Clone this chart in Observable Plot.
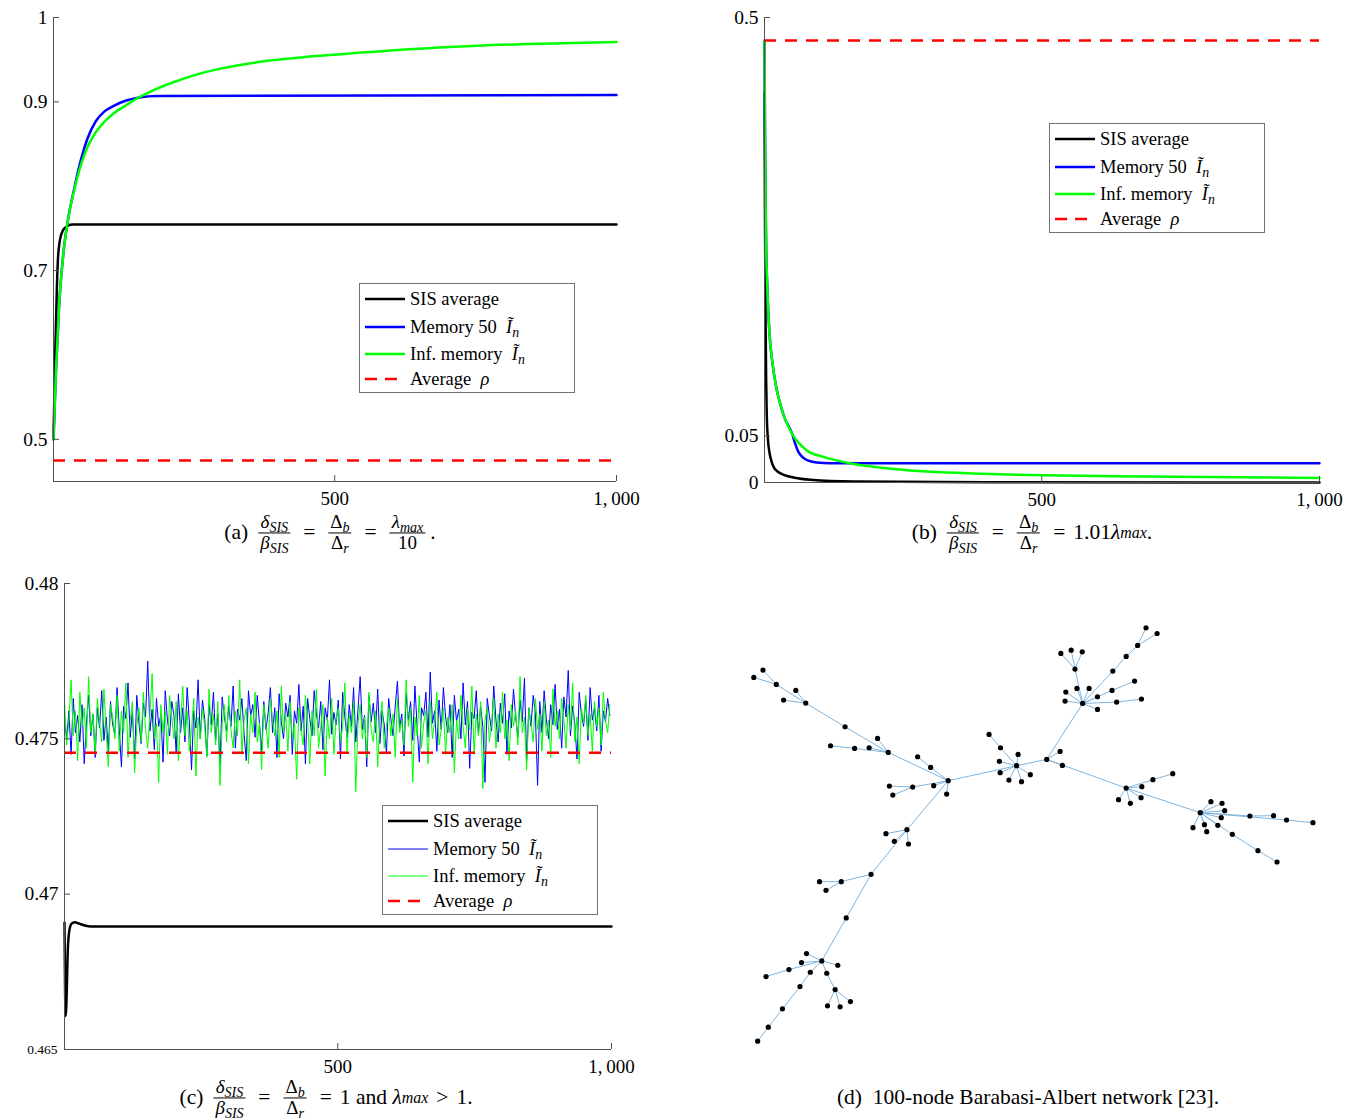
<!DOCTYPE html>
<html><head><meta charset="utf-8">
<script src="https://cdn.jsdelivr.net/npm/d3@7"></script>
<script src="https://cdn.jsdelivr.net/npm/@observablehq/plot@0.6"></script>
<style>
body{margin:0;background:#fff;width:1356px;height:1119px;position:relative;overflow:hidden;font-family:'Liberation Serif','DejaVu Serif',serif;color:#000;}
.panel{position:absolute;}
.legend{position:absolute;background:#fff;border:1px solid #707070;width:216px;height:110px;box-sizing:border-box;font-size:18.5px;}
.legend .row{position:absolute;left:4px;height:24px;display:flex;align-items:center;white-space:nowrap;}
.legend .row svg{width:42px;height:10px;margin-right:4px;flex:none;}
.legend sub{font-size:0.75em;font-style:italic;vertical-align:-0.3em;line-height:0;}
.cap{position:absolute;font-size:21.5px;white-space:nowrap;transform:translate(-50%,-50%);display:flex;align-items:center;}
.frac{display:inline-flex;flex-direction:column;text-align:center;font-size:19px;line-height:0.95;margin:0 5px;}
.frac>span:first-child{border-bottom:1px solid #000;padding:0 2px 1px 2px;}
.frac>span:last-child{padding-top:1px;}
.frac sub, .cap sub{font-size:0.74em;font-style:italic;vertical-align:-0.25em;line-height:0;}
.op{margin:0 8px;}
</style>
</head><body>
<div id="pa" class="panel" style="left:0;top:0"></div>
<div id="pb" class="panel" style="left:680px;top:0"></div>
<div id="pc" class="panel" style="left:0;top:560px"></div>
<div id="pd" class="panel" style="left:730px;top:610px"></div>

<script>
// ---------- Panel (a) data ----------
const aBlackT = [1,4,7,9,11,14,18,24,34,1000];
const aBlackV = [0.50,0.60,0.68,0.715,0.73,0.741,0.748,0.752,0.7545,0.7545];
const aBlueT  = [1,5.6,11,18.7,26.4,38,49.5,61,76,92,107,130,153,184,1000];
const aBlueV  = [0.5,0.585,0.659,0.7215,0.759,0.798,0.831,0.856,0.877,0.889,0.895,0.9016,0.9053,0.907,0.908];
const aGreenT = [1,5.6,11,18.7,26.4,38,49.5,61,76,92,107,130,145,176,215,253,291,368,445,522,599,676,752,868,1000];
const aGreenV = [0.5,0.585,0.659,0.7215,0.759,0.796,0.825,0.846,0.864,0.877,0.886,0.896,0.9025,0.913,0.9235,0.932,0.9385,0.9475,0.953,0.957,0.961,0.964,0.9665,0.969,0.971];
const aRho = 0.4748;

// ---------- Panel (b) data ----------
const bBlackT = [1,2,3,4,5,7,10,14,18,25,37,55,84,162,400,1000];
const bBlackV = [0.42,0.27,0.17,0.11,0.075,0.048,0.032,0.022,0.016,0.0115,0.0079,0.0052,0.003,0.0011,0.0003,0];
const bBlueT  = [1,2,3,4,6,10,15,22,30,37.5,51,56,62,70,80,95,120,1000];
const bBlueV  = [0.475,0.37,0.30,0.255,0.21,0.16,0.13,0.103,0.083,0.069,0.052,0.042,0.033,0.027,0.0235,0.0215,0.0208,0.0208];
const bGreenT = [1,2,3,4,6,10,15,22,30,37.5,51,76,107,162,239,394,627,1000];
const bGreenV = [0.475,0.37,0.30,0.255,0.21,0.16,0.13,0.103,0.083,0.069,0.052,0.035,0.0275,0.020,0.0143,0.0094,0.0068,0.0049];
const bRho = 0.4752;

// ---------- Panel (c) data ----------
const cBlackT = [1,2,3,5,7,10,14,20,28,38,50,1000];
const cBlackV = [0.46908,0.4670,0.46608,0.4668,0.4682,0.46885,0.46905,0.4691,0.46905,0.46899,0.46896,0.46896];
const cRho = 0.47455;
const cStep = 4; // sampling interval of the noisy series (iterations)
const cBlue = [
0.4756,0.4750,0.4759,0.4745,0.4763,0.4752,0.47575,0.4749,0.4761,0.4742,0.4755,0.4764,0.4751,0.4758,0.4744,0.4760,0.47535,0.47655,0.47495,0.4757,0.4746,0.4762,0.47545,0.47515,0.47665,
0.4753,0.4741,0.47605,0.47565,0.4768,0.47505,0.4759,0.47435,0.4764,0.4755,0.47485,0.47615,0.4757,0.4775,0.47525,0.47595,0.47465,0.4763,0.4754,0.4758,0.47425,0.47655,0.4756,0.4751,0.4762,
0.47575,0.47455,0.47645,0.4752,0.4760,0.4749,0.47665,0.47555,0.4740,0.4759,0.47535,0.4769,0.4750,0.47625,0.47565,0.47445,0.4761,0.47545,0.4765,0.47495,0.4758,0.47415,0.47635,0.4757,0.47525,
0.47605,0.4754,0.4767,0.4747,0.47595,0.4756,0.4763,0.47515,0.4743,0.47655,0.47575,0.4761,0.47505,0.4764,0.4755,0.4746,0.4762,0.4753,0.47585,0.47665,0.4752,0.4760,0.4744,0.47645,0.47555,
0.4750,0.47615,0.4757,0.4764,0.4745,0.4759,0.4755,0.47675,0.47525,0.47605,0.4742,0.4763,0.47565,0.4751,0.47655,0.4758,0.47535,0.4762,0.47465,0.4760,0.4756,0.4769,0.47515,0.47585,0.47545,
0.47625,0.47435,0.4765,0.4757,0.47505,0.4761,0.4754,0.47665,0.4749,0.47595,0.4770,0.4753,0.47575,0.4741,0.4764,0.47555,0.47615,0.4752,0.4766,0.47485,0.4759,0.47545,0.47455,0.4763,0.47565,
0.4751,0.47605,0.47685,0.47535,0.4758,0.47445,0.47645,0.4756,0.4762,0.47495,0.4767,0.4754,0.47425,0.4760,0.47575,0.4765,0.47505,0.47715,0.4755,0.4759,0.4746,0.47625,0.4753,0.47665,0.4757,
0.4752,0.4761,0.4744,0.4764,0.47555,0.47595,0.4750,0.4768,0.47545,0.4762,0.47405,0.47585,0.47565,0.47655,0.47515,0.47605,0.4754,0.4736,0.4763,0.47575,0.47525,0.4767,0.4756,0.4749,0.47615,
0.4755,0.47645,0.4745,0.4759,0.47535,0.4766,0.4757,0.47505,0.47625,0.47555,0.47695,0.4743,0.4760,0.4754,0.4764,0.4758,0.4735,0.4762,0.4752,0.47655,0.47565,0.4750,0.4761,0.47545,0.47675,
0.4753,0.47595,0.4747,0.47635,0.4757,0.4772,0.4751,0.47605,0.4755,0.47435,0.4765,0.4758,0.4754,0.47625,0.47495,0.47665,0.4756,0.4760,0.47525,0.4764,0.4746,0.4759,0.47555,0.4763,0.47575];
const cGreen = [
0.4762,0.4748,0.4756,0.4769,0.4751,0.4759,0.4743,0.4765,0.4754,0.4760,0.4747,0.4770,0.4752,0.4758,0.4745,0.4763,0.4755,0.4749,0.4766,0.4753,0.4741,0.4761,0.4757,0.4750,0.4764,
0.4746,0.4759,0.4752,0.4768,0.4744,0.4756,0.4762,0.4739,0.4754,0.4760,0.4749,0.4765,0.4753,0.4747,0.4758,0.4771,0.4750,0.4755,0.4736,0.4761,0.4752,0.4759,0.4745,0.4764,0.4757,
0.4750,0.4762,0.4743,0.4756,0.4767,0.4751,0.4759,0.4746,0.4753,0.4763,0.4738,0.4757,0.4750,0.4760,0.4754,0.4744,0.4766,0.4752,0.4758,0.4748,0.4762,0.4735,0.4755,0.4761,0.4749,
0.4764,0.4753,0.4747,0.4759,0.4751,0.4769,0.4745,0.4756,0.4760,0.4742,0.4758,0.4752,0.4765,0.4749,0.4755,0.4740,0.4761,0.4754,0.4747,0.4763,0.4756,0.4751,0.4759,0.4744,0.4767,
0.4752,0.4758,0.4746,0.4762,0.4750,0.4755,0.4737,0.4760,0.4753,0.4748,0.4764,0.4756,0.4742,0.4759,0.4751,0.4766,0.4747,0.4754,0.4761,0.4738,0.4757,0.4750,0.4763,0.4745,0.4756,
0.4760,0.4749,0.4754,0.4768,0.4746,0.4758,0.4752,0.4762,0.4733,0.4755,0.4761,0.4750,0.4757,0.4744,0.4765,0.4753,0.4749,0.4759,0.4741,0.4756,0.4762,0.4747,0.4754,0.4760,0.4751,
0.4758,0.4744,0.4763,0.4752,0.4756,0.4748,0.4769,0.4754,0.4760,0.4736,0.4757,0.4751,0.4764,0.4747,0.4755,0.4759,0.4742,0.4762,0.4750,0.4756,0.4765,0.4748,0.4753,0.4760,0.4745,
0.4757,0.4752,0.4761,0.4739,0.4756,0.4750,0.4764,0.4754,0.4747,0.4760,0.4753,0.4767,0.4745,0.4758,0.4751,0.4762,0.4734,0.4756,0.4760,0.4749,0.4755,0.4763,0.4747,0.4758,0.4752,
0.4765,0.4750,0.4756,0.4743,0.4761,0.4754,0.4759,0.4748,0.4770,0.4752,0.4757,0.4740,0.4760,0.4755,0.4749,0.4763,0.4753,0.4758,0.4746,0.4762,0.4751,0.4756,0.4744,0.4766,0.4754,
0.4759,0.4750,0.4763,0.4756,0.4747,0.4761,0.4753,0.4768,0.4749,0.4757,0.4742,0.4760,0.4755,0.4764,0.4751,0.4758,0.4746,0.4762,0.4754,0.4760,0.4748,0.4765,0.4756,0.4752,0.4761];

// ---------- Panel (d) data: 100-node tree layout ----------
const netX = [749,707,677,753,704,706,729,762,785,828,
863,869,570,524,490,532,477,416,425,566,
413,385,363,325,262,300,197,171,139,120,
85,61,462,407,429,466,368,290,233,250,
303,239,199,186,281,153,93,209,182,136,
99,71,252,274,254,287,314,922,878,876,
907,939,961,961,1011,1076,999,1058,902,865,
892,921,1001,1036,1066,1088,1117,1036,1016,1047,
1075,1077,1106,1158,1230,1258,1287,1294,1285,1276,
1247,1241,1211,1360,1422,1456,1525,1314,1381,1431];
const netY = [466,412,372,432,453,487,509,514,493,447,
423,465,511,471,439,526,530,527,554,551,
426,384,412,414,406,349,278,240,269,222,
179,201,658,670,693,701,792,814,814,840,
923,1052,1030,1057,1065,1078,1099,1086,1129,1196,
1251,1293,1089,1138,1187,1190,1174,279,245,272,
234,234,259,297,275,266,240,212,176,129,
119,124,182,138,105,52,69,533,568,579,
562,529,508,490,607,574,579,601,622,645,
664,643,652,617,616,629,637,672,721,755];
const netParent = [-1,0,1,0,0,0,0,0,0,0,
9,9,0,12,13,12,12,16,16,12,
12,20,20,20,23,20,25,26,26,26,
29,29,12,32,32,32,32,36,37,37,
36,40,41,41,41,41,45,41,47,48,
49,50,41,52,53,53,53,9,57,57,
57,57,57,57,57,64,57,66,57,68,
68,68,57,72,73,74,74,9,77,77,
77,77,77,82,77,84,84,84,84,84,
84,84,84,84,93,84,95,84,97,98];

// ---------- tick labels ----------
const xTicks = [500, 1000];
const aYTicks = [0.5, 0.7, 0.9, 1];
const bYTicks = [0, 0.05, 0.5];
const cYTicks = [0.47, 0.475, 0.48];
const cYTickSmall = [0.465];

const BLUE = "#0000ff", GREEN = "#00ff00", RED = "#ff0000", BLACK = "#000000";
const FONT = "'Liberation Serif','DejaVu Serif',serif";
const xFmt = d => d === 1000 ? "1,\u2009000" : String(d);

function series(T, V) { return T.map((t, i) => ({t, v: V[i]})); }

function commonAxes(yTicks, ymin) {
  return [
    Plot.ruleX([1], {stroke: "#505050", strokeWidth: 1}),
    Plot.ruleY([ymin], {stroke: "#505050", strokeWidth: 1}),
    Plot.axisX({ticks: xTicks, tickFormat: xFmt, label: null, tickSize: -6, tickPadding: 15.5, fontSize: 19, stroke: "#505050"}),
    Plot.axisY({ticks: yTicks, tickFormat: d => String(d), label: null, tickSize: -6, tickPadding: 12, fontSize: 19.5, stroke: "#505050"})
  ];
}

function lineMark(T, V, color, w, extra = {}) {
  return Plot.line(series(T, V), {x: "t", y: "v", stroke: color, strokeWidth: w, curve: "monotone-x", ...extra});
}

// Panel (a)
document.getElementById("pa").append(Plot.plot({
  width: 680, height: 510,
  marginLeft: 53, marginRight: 64, marginTop: 17, marginBottom: 29,
  style: {fontFamily: FONT, background: "transparent", overflow: "visible"},
  x: {domain: [1, 1000], axis: null},
  y: {domain: [0.45, 1], axis: null},
  marks: [
    lineMark(aBlackT, aBlackV, BLACK, 2.5),
    lineMark(aBlueT, aBlueV, BLUE, 2.5),
    lineMark(aGreenT, aGreenV, GREEN, 2.5),
    Plot.ruleY([aRho], {x1: 1, x2: 1000, stroke: RED, strokeWidth: 2.5, strokeDasharray: "12,9"}),
    ...commonAxes(aYTicks, 0.45)
  ]
}));

// Panel (b)
document.getElementById("pb").append(Plot.plot({
  width: 676, height: 510,
  marginLeft: 84, marginRight: 37, marginTop: 17, marginBottom: 28,
  style: {fontFamily: FONT, background: "transparent", overflow: "visible"},
  x: {domain: [1, 1000], axis: null},
  y: {domain: [0, 0.5], axis: null},
  marks: [
    lineMark(bBlackT, bBlackV, BLACK, 2.5),
    lineMark(bBlueT, bBlueV, BLUE, 2.5),
    lineMark(bGreenT, bGreenV, GREEN, 2.5),
    Plot.ruleY([bRho], {x1: 1, x2: 1000, stroke: RED, strokeWidth: 2.5, strokeDasharray: "12,9"}),
    ...commonAxes(bYTicks, 0)
  ]
}));

// Panel (c)
const cBlueData = cBlue.map((v, i) => ({t: 1 + i * cStep, v}));
const cGreenData = cGreen.map((v, i) => ({t: 1 + i * cStep, v}));
document.getElementById("pc").append(Plot.plot({
  width: 680, height: 520,
  marginLeft: 64, marginRight: 69, marginTop: 23, marginBottom: 31,
  style: {fontFamily: FONT, background: "transparent", overflow: "visible"},
  x: {domain: [1, 1000], axis: null},
  y: {domain: [0.465, 0.48], axis: null},
  marks: [
    lineMark(cBlackT, cBlackV, BLACK, 2.5),
    Plot.line(cBlueData, {x: "t", y: "v", stroke: BLUE, strokeWidth: 1}),
    Plot.line(cGreenData, {x: "t", y: "v", stroke: GREEN, strokeWidth: 1}),
    Plot.ruleY([cRho], {x1: 1, x2: 1000, stroke: RED, strokeWidth: 2.5, strokeDasharray: "12,9"}),
    ...commonAxes(cYTicks, 0.465),
    Plot.axisY({ticks: cYTickSmall, tickFormat: d => String(d), label: null, tickSize: 0, tickPadding: 7, fontSize: 13.5})
  ]
}));

// Panel (d)
const nodes = netX.map((x, i) => ({x, y: netY[i], p: netParent[i]}));
const edges = nodes.filter(d => d.p >= 0).map(d => ({x1: d.x, y1: d.y, x2: nodes[d.p].x, y2: nodes[d.p].y}));
document.getElementById("pd").append(Plot.plot({
  width: 600, height: 450, margin: 0,
  style: {background: "transparent", overflow: "visible"},
  x: {domain: [0, 1571], range: [0, 600], axis: null},
  y: {domain: [0, 1351], range: [0, 450], axis: null},
  marks: [
    Plot.link(edges, {x1: "x1", y1: "y1", x2: "x2", y2: "y2", stroke: "#7fb5df", strokeWidth: 1}),
    Plot.dot(nodes, {x: "x", y: "y", r: 2.6, fill: "#000", stroke: "none"})
  ]
}));

// ---------- legends (HTML) ----------
function legend(left, top, thin) {
  const it = `<i>Ĩ</i><sub>n</sub>`;
  const rows = [
    {c: BLACK, w: 2.5, dash: null, label: "SIS average", y: 15},
    {c: BLUE, w: thin ? 1 : 2.5, dash: null, label: `Memory 50&nbsp; ${it}`, y: 43},
    {c: GREEN, w: thin ? 1 : 2.5, dash: null, label: `Inf. memory&nbsp; ${it}`, y: 70},
    {c: RED, w: 2.5, dash: "12,8", label: `Average&nbsp; <i>ρ</i>`, y: 95}
  ];
  const div = document.createElement("div");
  div.className = "legend";
  div.style.left = left + "px"; div.style.top = top + "px";
  div.innerHTML = rows.map(r => `<div class="row" style="top:${r.y - 12}px"><svg viewBox="0 0 42 10"><line x1="1" x2="41" y1="5" y2="5" stroke="${r.c}" stroke-width="${r.w}" ${r.dash ? `stroke-dasharray="${r.dash}"` : ""}/></svg><span>${r.label}</span></div>`).join("");
  document.body.append(div);
}
legend(359, 283, false);
legend(1049, 123, false);
legend(382, 805, true);

// ---------- captions ----------
const fracSIS = `<span class="frac"><span><i>δ</i><sub>SIS</sub></span><span><i>β</i><sub>SIS</sub></span></span>`;
const fracD = `<span class="frac"><span>Δ<sub>b</sub></span><span>Δ<sub>r</sub></span></span>`;
const fracL = `<span class="frac"><span><i>λ</i><sub>max</sub></span><span>10</span></span>`;
function caption(x, y, html) {
  const d = document.createElement("div");
  d.className = "cap"; d.style.left = x + "px"; d.style.top = y + "px";
  d.innerHTML = html; document.body.append(d);
}
caption(330, 533, `(a)&nbsp;${fracSIS}<span class="op">=</span>${fracD}<span class="op">=</span>${fracL}.`);
caption(1032, 533, `(b)&nbsp;${fracSIS}<span class="op">=</span>${fracD}<span class="op">=</span>1.01<i>λ</i><sub>max</sub>.`);
caption(326, 1098, `(c)&nbsp;${fracSIS}<span class="op">=</span>${fracD}<span class="op">=</span>1 and&nbsp;<i>λ</i><sub>max</sub><span class="op">&gt;</span>1.`);
caption(1028, 1097, `(d)&nbsp; 100-node Barabasi-Albert network [23].`);
</script>
</body></html>
